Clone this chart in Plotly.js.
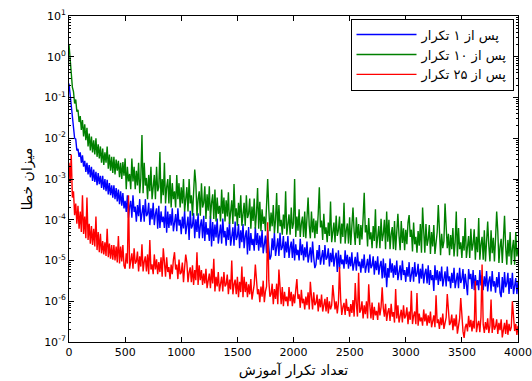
<!DOCTYPE html>
<html>
<head>
<meta charset="utf-8">
<script src="https://cdn.plot.ly/plotly-3.0.1.min.js"></script>
<style>html,body{margin:0;padding:0;background:#fff;}#chart{width:532px;height:381px;}</style>
</head>
<body>
<div id="chart"></div>
<script>
// iteration step between stored samples (0 ... 4000)
const iterStep = 10;

const seriesNames = ["پس از ۱ تکرار", "پس از ۱۰ تکرار", "پس از ۲۵ تکرار"];

// error after 1 iteration (blue), one row per 100 iterations
const errAfter1 = [
2.2e-1, 1.1e-1, 6.3e-2, 2.8e-2, 2.0e-2, 1.0e-2, 9.5e-3, 5.0e-3, 5.5e-3, 3.5e-3,
4.5e-3, 2.5e-3, 3.8e-3, 2.0e-3, 2.8e-3, 1.5e-3, 2.5e-3, 1.3e-3, 2.2e-3, 1.1e-3,
2.0e-3, 9.0e-4, 1.7e-3, 8.5e-4, 1.5e-3, 7.0e-4, 1.4e-3, 7.5e-4, 1.2e-3, 6.0e-4,
1.2e-3, 5.5e-4, 1.0e-3, 5.0e-4, 9.5e-4, 4.2e-4, 8.0e-4, 4.0e-4, 7.0e-4, 3.5e-4,
7.0e-4, 3.2e-4, 6.0e-4, 2.8e-4, 5.5e-4, 2.4e-4, 5.0e-4, 2.2e-4, 4.5e-4, 1.9e-4,
2.9e-4, 1.55e-4, 4.0e-4, 1.12e-4, 2.1e-4, 2.9e-4, 1.12e-4, 4.0e-4, 1.55e-4, 2.1e-4,
8.9e-5, 2.3e-4, 1.23e-4, 3.2e-4, 8.9e-5, 1.7e-4, 2.3e-4, 8.9e-5, 3.2e-4, 1.23e-4,
1.4e-4, 2.6e-4, 7.4e-5, 1.9e-4, 1.02e-4, 2.6e-4, 7.4e-5, 1.4e-4, 1.9e-4, 6.0e-5,
2.2e-4, 6.3e-5, 1.6e-4, 8.7e-5, 1.19e-4, 6.3e-5, 2.2e-4, 4.8e-5, 1.6e-4, 6.3e-5,
1.38e-4, 7.2e-5, 1.9e-4, 5.2e-5, 1.0e-4, 1.38e-4, 5.2e-5, 1.9e-4, 7.2e-5, 1.0e-4,
4.4e-5, 1.19e-4, 6.1e-5, 1.66e-4, 4.4e-5, 8.5e-5, 1.19e-4, 3.2e-5, 1.66e-4, 6.1e-5,
7.2e-5, 1.45e-4, 3.5e-5, 1.02e-4, 5.0e-5, 1.45e-4, 3.5e-5, 7.2e-5, 1.02e-4, 3.5e-5,
1.26e-4, 3.0e-5, 8.8e-5, 4.3e-5, 6.2e-5, 3.0e-5, 1.26e-4, 2.2e-5, 8.8e-5, 3.0e-5,
7.6e-5, 3.7e-5, 1.07e-4, 2.6e-5, 5.3e-5, 7.6e-5, 2.6e-5, 1.07e-4, 3.7e-5, 5.3e-5,
2.3e-5, 6.5e-5, 3.2e-5, 9.1e-5, 2.3e-5, 4.6e-5, 6.5e-5, 2.3e-5, 9.1e-5, 3.2e-5,
3.9e-5, 7.8e-5, 2.0e-5, 5.5e-5, 2.8e-5, 7.8e-5, 2.0e-5, 3.9e-5, 5.5e-5, 1.4e-5,
6.6e-5, 1.74e-5, 4.7e-5, 2.4e-5, 3.4e-5, 1.74e-5, 6.6e-5, 2.4e-5, 4.7e-5, 1.74e-5,
4.1e-5, 2.1e-5, 5.6e-5, 1.5e-5, 2.9e-5, 4.1e-5, 1.5e-5, 5.6e-5, 2.1e-5, 1.05e-5,
1.3e-5, 3.5e-5, 1.8e-5, 4.8e-5, 1.3e-5, 2.5e-5, 3.5e-5, 1.3e-5, 4.8e-5, 1.8e-5,
2.1e-5, 4.0e-5, 1.15e-5, 2.9e-5, 1.57e-5, 4.0e-5, 1.15e-5, 2.1e-5, 2.9e-5, 1.15e-5,
3.4e-5, 1.0e-5, 2.5e-5, 1.35e-5, 1.84e-5, 1.0e-5, 3.4e-5, 1.35e-5, 2.5e-5, 1.0e-5,
2.1e-5, 1.2e-5, 2.9e-5, 8.9e-6, 1.6e-5, 2.1e-5, 8.9e-6, 2.9e-5, 1.2e-5, 6.5e-6,
7.9e-6, 1.8e-5, 1.05e-5, 2.4e-5, 7.9e-6, 1.38e-5, 1.8e-5, 7.9e-6, 2.4e-5, 1.05e-5,
1.19e-5, 2.0e-5, 7.1e-6, 1.55e-5, 9.1e-6, 2.0e-5, 7.1e-6, 1.19e-5, 1.55e-5, 5.2e-6,
1.78e-5, 6.3e-6, 1.38e-5, 8.1e-6, 1.06e-5, 6.3e-6, 1.78e-5, 8.1e-6, 1.38e-5, 6.3e-6,
1.23e-5, 7.2e-6, 1.58e-5, 5.6e-6, 9.4e-6, 1.23e-5, 5.6e-6, 1.58e-5, 7.2e-6, 9.4e-6,
5.0e-6, 1.1e-5, 6.5e-6, 1.41e-5, 5.0e-6, 8.4e-6, 1.1e-5, 5.0e-6, 1.41e-5, 6.5e-6,
7.5e-6, 1.26e-5, 4.5e-6, 9.8e-6, 5.8e-6, 1.26e-5, 4.5e-6, 7.5e-6, 9.8e-6, 3.6e-6,
1.12e-5, 3.8e-6, 8.5e-6, 2.2e-6, 6.5e-6, 3.8e-6, 1.12e-5, 5.0e-6, 8.5e-6, 3.8e-6,
7.6e-6, 4.4e-6, 1.0e-5, 3.3e-6, 5.8e-6, 7.6e-6, 3.3e-6, 1.0e-5, 4.4e-6, 5.8e-6,
3.0e-6, 6.9e-6, 4.0e-6, 9.1e-6, 3.0e-6, 5.2e-6, 6.9e-6, 3.0e-6, 9.1e-6, 4.0e-6,
4.8e-6, 8.3e-6, 2.75e-6, 6.3e-6, 3.6e-6, 8.3e-6, 2.75e-6, 4.8e-6, 6.3e-6, 2.75e-6,
7.6e-6, 2.5e-6, 5.8e-6, 3.3e-6, 4.4e-6, 1.8e-6, 7.6e-6, 3.3e-6, 5.8e-6, 2.5e-6,
5.4e-6, 3.1e-6, 7.1e-6, 2.3e-6, 4.1e-6, 5.4e-6, 2.3e-6, 7.1e-6, 3.1e-6, 4.1e-6,
2.1e-6, 5.0e-6, 2.8e-6, 6.6e-6, 2.1e-6, 3.8e-6, 5.0e-6, 2.1e-6, 6.6e-6, 2.8e-6,
3.5e-6, 6.2e-6, 2.0e-6, 4.7e-6, 2.6e-6, 1.4e-6, 6.2e-6, 3.5e-6, 4.7e-6, 2.0e-6,
5.8e-6, 1.86e-6, 4.4e-6, 2.45e-6, 3.3e-6, 1.86e-6, 5.8e-6, 2.45e-6, 4.4e-6, 1.86e-6,
4.1e-6, 2.3e-6, 5.5e-6, 1.74e-6, 3.1e-6, 4.1e-6, 1.74e-6, 5.5e-6, 2.3e-6, 3.1e-6,
1.62e-6, 3.9e-6, 2.2e-6, 5.2e-6, 1.62e-6, 1.26e-6, 3.9e-6, 1.62e-6, 5.2e-6, 2.2e-6,
2.75e-6, 5.0e-6, 1.5e-6, 3.7e-6, 2.0e-6, 5.0e-6, 1.5e-6, 2.75e-6, 3.7e-6, 1.5e-6,
3.0e-6];

// error after 10 iterations (green)
const errAfter10 = [
2.0, 8.0e-1, 3.8e-1, 1.8e-1, 1.4e-1, 7.1e-2, 8.9e-2, 4.5e-2, 5.0e-2, 2.5e-2,
3.5e-2, 1.6e-2, 2.8e-2, 1.1e-2, 2.2e-2, 8.9e-3, 1.8e-2, 6.3e-3, 1.3e-2, 5.0e-3,
1.1e-2, 4.5e-3, 8.9e-3, 4.0e-3, 1.0e-2, 3.5e-3, 7.1e-3, 3.2e-3, 6.3e-3, 2.5e-3,
5.6e-3, 2.2e-3, 4.5e-3, 2.5e-3, 6.3e-3, 1.8e-3, 4.0e-3, 1.6e-3, 3.5e-3, 1.4e-3,
3.5e-3, 1.3e-3, 3.0e-3, 1.6e-3, 2.8e-3, 1.1e-3, 2.5e-3, 1.0e-3, 2.6e-3, 1.2e-3,
3.2e-3, 5.6e-4, 2.0e-3, 8.7e-4, 1.33e-3, 5.6e-4, 3.2e-3, 8.7e-4, 2.0e-3, 5.6e-4,
1.6e-3, 6.9e-4, 2.5e-3, 4.5e-4, 1.06e-3, 1.2e-2, 4.5e-4, 2.5e-3, 6.9e-4, 1.06e-3,
3.2e-4, 1.26e-3, 5.0e-4, 2.0e-3, 3.2e-4, 7.9e-4, 1.26e-3, 3.2e-4, 2.0e-3, 5.0e-4,
6.3e-4, 4.6e-3, 2.5e-4, 1.0e-3, 4.0e-4, 2.5e-3, 2.5e-4, 6.3e-4, 1.0e-3, 2.5e-4,
1.26e-3, 2.0e-4, 7.9e-4, 3.2e-4, 5.0e-4, 2.0e-4, 1.26e-3, 3.2e-4, 7.9e-4, 2.0e-4,
6.3e-4, 2.5e-4, 1.0e-3, 1.6e-4, 4.0e-4, 6.3e-4, 1.6e-4, 1.0e-3, 2.5e-4, 4.0e-4,
1.26e-4, 5.0e-4, 1.7e-3, 7.9e-4, 1.26e-4, 3.2e-4, 5.0e-4, 1.26e-4, 7.9e-4, 2.0e-4,
2.6e-4, 6.6e-4, 1.05e-4, 4.2e-4, 1.66e-4, 6.6e-4, 1.05e-4, 2.6e-4, 4.2e-4, 1.05e-4,
5.5e-4, 9.1e-5, 3.5e-4, 1.4e-4, 2.2e-4, 9.1e-5, 5.5e-4, 1.4e-4, 3.5e-4, 9.1e-5,
3.0e-4, 1.2e-4, 4.7e-4, 7.9e-5, 1.9e-4, 3.0e-4, 7.9e-5, 7.5e-4, 1.2e-4, 1.9e-4,
7.1e-5, 2.6e-4, 1.1e-4, 4.0e-4, 7.1e-5, 1.7e-4, 2.6e-4, 7.1e-5, 4.0e-4, 1.1e-4,
1.4e-4, 3.3e-4, 6.0e-5, 2.1e-4, 9.3e-5, 3.3e-4, 6.0e-5, 1.4e-4, 6.0e-4, 6.0e-5,
2.75e-4, 5.2e-5, 1.8e-4, 7.9e-5, 1.2e-4, 5.2e-5, 2.75e-4, 1.0e-3, 1.8e-4, 5.2e-5,
1.5e-4, 6.9e-5, 2.3e-4, 4.7e-5, 1.0e-4, 4.5e-4, 4.7e-5, 2.3e-4, 6.9e-5, 1.0e-4,
4.3e-5, 1.35e-4, 6.0e-5, 5.0e-4, 4.3e-5, 9.1e-5, 1.35e-4, 4.3e-5, 2.0e-4, 6.0e-5,
8.1e-5, 1.0e-3, 3.8e-5, 1.2e-4, 5.4e-5, 1.8e-4, 3.8e-5, 8.1e-5, 1.2e-4, 3.8e-5,
1.6e-4, 3.5e-5, 1.07e-4, 3.5e-4, 7.2e-5, 3.5e-5, 1.6e-4, 4.9e-5, 1.07e-4, 3.5e-5,
9.6e-5, 4.5e-5, 1.4e-4, 6.3e-4, 6.5e-5, 9.6e-5, 3.2e-5, 1.4e-4, 4.5e-5, 6.5e-5,
2.8e-5, 8.5e-5, 4.0e-5, 2.8e-4, 2.8e-5, 5.8e-5, 8.5e-5, 2.8e-5, 1.26e-4, 4.0e-5,
5.5e-5, 1.2e-4, 2.6e-5, 8.1e-5, 3.8e-5, 2.6e-4, 2.6e-5, 5.5e-5, 8.1e-5, 2.6e-5,
1.15e-4, 2.4e-5, 7.8e-5, 2.0e-4, 5.2e-5, 2.4e-5, 1.15e-4, 3.5e-5, 7.8e-5, 2.4e-5,
7.4e-5, 3.3e-5, 1.1e-4, 4.6e-4, 4.9e-5, 7.4e-5, 2.2e-5, 1.1e-4, 3.3e-5, 4.9e-5,
2.0e-5, 7.0e-5, 3.0e-5, 1.8e-4, 2.0e-5, 4.6e-5, 7.0e-5, 2.0e-5, 1.05e-4, 3.0e-5,
4.4e-5, 1.0e-4, 1.9e-5, 1.6e-4, 2.9e-5, 1.0e-4, 1.9e-5, 4.4e-5, 6.6e-5, 1.9e-5,
9.3e-5, 1.8e-5, 6.2e-5, 1.4e-4, 4.1e-5, 1.8e-5, 9.3e-5, 2.7e-5, 6.2e-5, 1.8e-5,
5.7e-5, 2.5e-5, 8.5e-5, 1.3e-4, 3.8e-5, 5.7e-5, 1.66e-5, 8.5e-5, 2.5e-5, 3.8e-5,
1.55e-5, 5.3e-5, 2.3e-5, 7.9e-5, 1.55e-5, 2.0e-4, 5.3e-5, 1.55e-5, 7.9e-5, 2.3e-5,
3.3e-5, 7.4e-5, 1.45e-5, 5.0e-5, 2.2e-5, 7.4e-5, 1.45e-5, 3.3e-5, 5.0e-5, 2.3e-4,
6.8e-5, 1.35e-5, 4.5e-5, 2.0e-5, 3.0e-5, 2.5e-4, 6.8e-5, 2.0e-5, 4.5e-5, 1.35e-5,
4.2e-5, 1.9e-5, 6.3e-5, 1.26e-5, 2.8e-5, 1.6e-4, 1.26e-5, 6.3e-5, 1.9e-5, 2.8e-5,
1.15e-5, 4.0e-5, 1.75e-5, 1.1e-4, 1.15e-5, 2.6e-5, 4.0e-5, 1.15e-5, 6.0e-5, 1.75e-5,
2.5e-5, 5.8e-5, 1.05e-5, 3.8e-5, 1.6e-5, 1.1e-4, 1.05e-5, 2.5e-5, 3.8e-5, 1.05e-5,
5.5e-5, 9.5e-6, 3.6e-5, 9.0e-5, 2.3e-5, 9.5e-6, 5.5e-5, 1.5e-5, 3.6e-5, 9.5e-6,
3.4e-5, 1.6e-4, 5.2e-5, 8.7e-6, 2.2e-5, 3.4e-5, 8.7e-6, 5.2e-5, 1.26e-4, 2.2e-5,
7.9e-6, 3.2e-5, 1.26e-5, 5.0e-5, 7.9e-6, 2.0e-5, 3.2e-5, 7.9e-6, 5.0e-5, 1.26e-5,
2.0e-5];

// error after 25 iterations (red)
const errAfter25 = [
2.5e-3, 8.0e-4, 4.0e-3, 3.5e-4, 5.0e-4, 1.3e-4, 2.5e-4, 8.0e-5, 2.2e-4, 6.0e-5,
1.6e-4, 5.0e-5, 4.0e-4, 4.5e-5, 1.2e-4, 3.5e-5, 3.5e-4, 3.2e-5, 8.0e-5, 2.6e-5,
7.0e-5, 2.4e-5, 6.0e-5, 2.2e-5, 1.2e-4, 1.8e-5, 5.0e-5, 1.6e-5, 4.5e-5, 1.5e-5,
3.0e-5, 1.4e-5, 2.8e-5, 1.3e-5, 6.0e-5, 1.2e-5, 2.6e-5, 1.1e-5, 2.4e-5, 1.05e-5,
2.4e-5, 1.0e-5, 2.2e-5, 9.0e-6, 4.0e-5, 8.5e-6, 2.2e-5, 9.5e-6, 2.4e-5, 7.5e-6,
6.3e-6, 1.5e-5, 8.4e-6, 4.0e-4, 6.3e-6, 1.12e-5, 1.5e-5, 6.3e-6, 2.0e-5, 8.4e-6,
9.4e-6, 1.66e-5, 5.4e-6, 1.26e-5, 7.1e-6, 2.5e-5, 5.4e-6, 9.4e-6, 1.26e-5, 5.4e-6,
1.41e-5, 4.6e-6, 3.2e-5, 6.0e-6, 8.0e-6, 4.6e-6, 1.41e-5, 6.0e-6, 1.07e-5, 4.6e-6,
9.1e-6, 5.2e-6, 1.2e-5, 4.0e-6, 2.0e-5, 9.1e-6, 4.0e-6, 1.2e-5, 5.2e-6, 6.9e-6,
3.5e-6, 7.9e-6, 4.6e-6, 1.05e-5, 1.6e-5, 6.0e-6, 7.9e-6, 3.5e-6, 1.05e-5, 4.6e-6,
5.1e-6, 8.9e-6, 2.95e-6, 6.8e-6, 1.4e-5, 8.9e-6, 2.95e-6, 5.1e-6, 6.8e-6, 2.95e-6,
7.6e-6, 2.5e-6, 5.8e-6, 3.3e-6, 1.6e-5, 2.5e-6, 7.6e-6, 3.3e-6, 5.8e-6, 2.5e-6,
4.8e-6, 2.75e-6, 6.3e-6, 2.1e-6, 3.6e-6, 4.8e-6, 2.1e-6, 6.3e-6, 2.75e-6, 1.1e-5,
1.74e-6, 4.0e-6, 2.3e-6, 5.2e-6, 1.74e-6, 3.0e-6, 4.0e-6, 1.74e-6, 5.2e-6, 2.3e-6,
2.6e-6, 4.5e-6, 1.48e-6, 3.4e-6, 1.95e-6, 1.0e-5, 1.48e-6, 2.6e-6, 3.4e-6, 1.48e-6,
4.0e-6, 1.26e-6, 3.0e-6, 1.68e-6, 7.1e-6, 1.26e-6, 4.0e-6, 1.68e-6, 3.0e-6, 1.26e-6,
2.6e-6, 1.48e-6, 3.5e-6, 1.1e-6, 1.97e-6, 2.6e-6, 8.0e-6, 3.5e-6, 1.48e-6, 1.97e-6,
9.5e-7, 2.3e-6, 1.29e-6, 3.2e-6, 9.5e-7, 1.74e-6, 2.3e-6, 8.7e-5, 3.2e-6, 1.29e-6,
1.51e-6, 2.7e-6, 8.5e-7, 2.0e-6, 1.14e-6, 2.7e-6, 8.5e-7, 6.0e-6, 2.0e-6, 8.5e-7,
2.24e-6, 7.6e-7, 1.7e-6, 1.0e-6, 1.3e-6, 7.6e-7, 2.24e-6, 1.0e-6, 1.7e-6, 7.6e-7,
1.48e-6, 8.9e-7, 1.9e-6, 3.5e-6, 1.15e-6, 1.48e-6, 6.9e-7, 1.9e-6, 8.9e-7, 1.15e-6,
6.3e-7, 1.3e-6, 8.0e-7, 1.66e-6, 6.3e-7, 3.0e-6, 1.3e-6, 6.3e-7, 1.66e-6, 8.0e-7,
9.0e-7, 1.45e-6, 5.6e-7, 1.15e-6, 7.1e-7, 1.45e-6, 5.6e-7, 9.0e-7, 1.15e-6, 5.6e-7,
1.26e-6, 5.0e-7, 1.0e-6, 6.3e-7, 7.9e-7, 2.5e-6, 1.26e-6, 6.3e-7, 1.0e-6, 5.0e-7,
9.1e-7, 6.9e-6, 1.15e-6, 4.6e-7, 7.2e-7, 9.1e-7, 4.6e-7, 1.15e-6, 5.8e-7, 7.2e-7,
4.2e-7, 8.5e-7, 5.2e-7, 1.07e-6, 4.2e-7, 2.8e-6, 8.5e-7, 4.2e-7, 5.0e-6, 5.2e-7,
6.2e-7, 1.0e-6, 3.8e-7, 7.9e-7, 4.8e-7, 1.0e-6, 3.8e-7, 2.6e-6, 7.9e-7, 3.8e-7,
9.3e-7, 3.5e-7, 7.3e-7, 4.5e-7, 5.8e-7, 3.5e-7, 9.3e-7, 4.5e-7, 7.3e-7, 2.2e-6,
6.8e-7, 4.2e-7, 8.7e-7, 3.3e-7, 5.4e-7, 6.8e-7, 3.3e-7, 8.7e-7, 4.2e-7, 5.4e-7,
3.0e-7, 2.0e-6, 3.8e-7, 7.9e-7, 3.0e-7, 4.9e-7, 6.2e-7, 3.0e-7, 7.9e-7, 3.8e-7,
4.4e-7, 7.1e-7, 2.75e-7, 5.6e-7, 3.5e-7, 1.8e-6, 2.75e-7, 4.4e-7, 5.6e-7, 2.75e-7,
1.6e-6, 2.5e-7, 5.0e-7, 3.2e-7, 4.0e-7, 2.5e-7, 6.3e-7, 3.2e-7, 5.0e-7, 2.5e-7,
4.5e-7, 2.9e-7, 5.6e-7, 2.3e-7, 3.6e-7, 4.5e-7, 2.3e-7, 1.4e-6, 2.9e-7, 3.6e-7,
2.1e-7, 4.0e-7, 2.6e-7, 5.0e-7, 2.1e-7, 3.2e-7, 4.0e-7, 1.5e-6, 5.0e-7, 2.6e-7,
3.0e-7, 4.7e-7, 1.95e-7, 3.8e-7, 2.4e-7, 4.7e-7, 1.6e-7, 3.0e-7, 3.8e-7, 1.2e-6,
4.4e-7, 1.82e-7, 1.26e-7, 2.3e-7, 2.8e-7, 1.82e-7, 4.4e-7, 2.3e-7, 3.5e-7, 1.82e-7,
3.3e-7, 2.14e-7, 3.2e-6, 1.74e-7, 2.66e-7, 3.3e-7, 1.74e-7, 4.1e-7, 8.0e-6, 2.66e-7,
1.66e-7, 3.1e-7, 2.0e-7, 3.8e-7, 1.66e-7, 2.5e-7, 1.1e-6, 1.66e-7, 3.8e-7, 2.0e-7,
2.4e-7, 3.6e-7, 1.58e-7, 2.95e-7, 1.95e-7, 3.6e-7, 1.3e-7, 2.4e-7, 2.95e-7, 1.58e-7,
3.5e-7, 1.5e-7, 2.8e-7, 1.86e-7, 2.3e-7, 1.0e-6, 3.5e-7, 1.86e-7, 2.8e-7, 1.5e-7,
2.5e-7];

const xTickVals = [0, 500, 1000, 1500, 2000, 2500, 3000, 3500, 4000];
const yTickVals = [1e-7, 1e-6, 1e-5, 1e-4, 1e-3, 1e-2, 1e-1, 1, 10];
const yTickText = ["10<sup>-7</sup>", "10<sup>-6</sup>", "10<sup>-5</sup>", "10<sup>-4</sup>",
  "10<sup>-3</sup>", "10<sup>-2</sup>", "10<sup>-1</sup>", "10<sup>0</sup>", "10<sup>1</sup>"];
const xTitle = "تعداد تکرار آموزش";
const yTitle = "میزان خطا";

const colors = ["#0000ff", "#008000", "#ff0000"];
const iters = errAfter1.map((_, i) => i * iterStep);

const traces = [errAfter1, errAfter10, errAfter25].map((ys, k) => ({
  x: iters, y: ys, type: "scatter", mode: "lines", name: seriesNames[k],
  line: {color: colors[k], width: 1.4}
}));

const font = {family: "DejaVu Sans, sans-serif", color: "#000"};
const layout = {
  width: 532, height: 381,
  margin: {l: 69, r: 14, t: 16, b: 39, pad: 0},
  paper_bgcolor: "#fff", plot_bgcolor: "#fff",
  font: Object.assign({size: 11}, font),
  showlegend: true,
  legend: {x: 0.99, xanchor: "right", y: 0.992, yanchor: "top",
    bordercolor: "#000", borderwidth: 1, bgcolor: "#fff",
    font: Object.assign({size: 13}, font), itemwidth: 60, tracegroupgap: 0},
  xaxis: {
    range: [0, 4000], tickmode: "array", tickvals: xTickVals,
    ticks: "inside", ticklen: 5, tickcolor: "#000", tickwidth: 1,
    showline: true, linecolor: "#000", linewidth: 1, mirror: "ticks",
    showgrid: false, zeroline: false, automargin: false,
    tickfont: Object.assign({size: 11}, font),
    title: {text: xTitle, font: Object.assign({size: 14}, font), standoff: 6}
  },
  yaxis: {
    type: "log", range: [-7, 1], tickmode: "array", tickvals: yTickVals, ticktext: yTickText,
    ticks: "inside", ticklen: 5, tickcolor: "#000", tickwidth: 1,
    showline: true, linecolor: "#000", linewidth: 1, mirror: "ticks",
    showgrid: false, zeroline: false, automargin: false,
    tickfont: Object.assign({size: 11}, font),
    minor: {ticks: "inside", ticklen: 2, tickcolor: "#000", dtick: "D1", showgrid: false},
    title: {text: yTitle, font: Object.assign({size: 14}, font), standoff: 8}
  }
};

Plotly.newPlot("chart", traces, layout, {staticPlot: true, displayModeBar: false});
</script>
</body>
</html>
